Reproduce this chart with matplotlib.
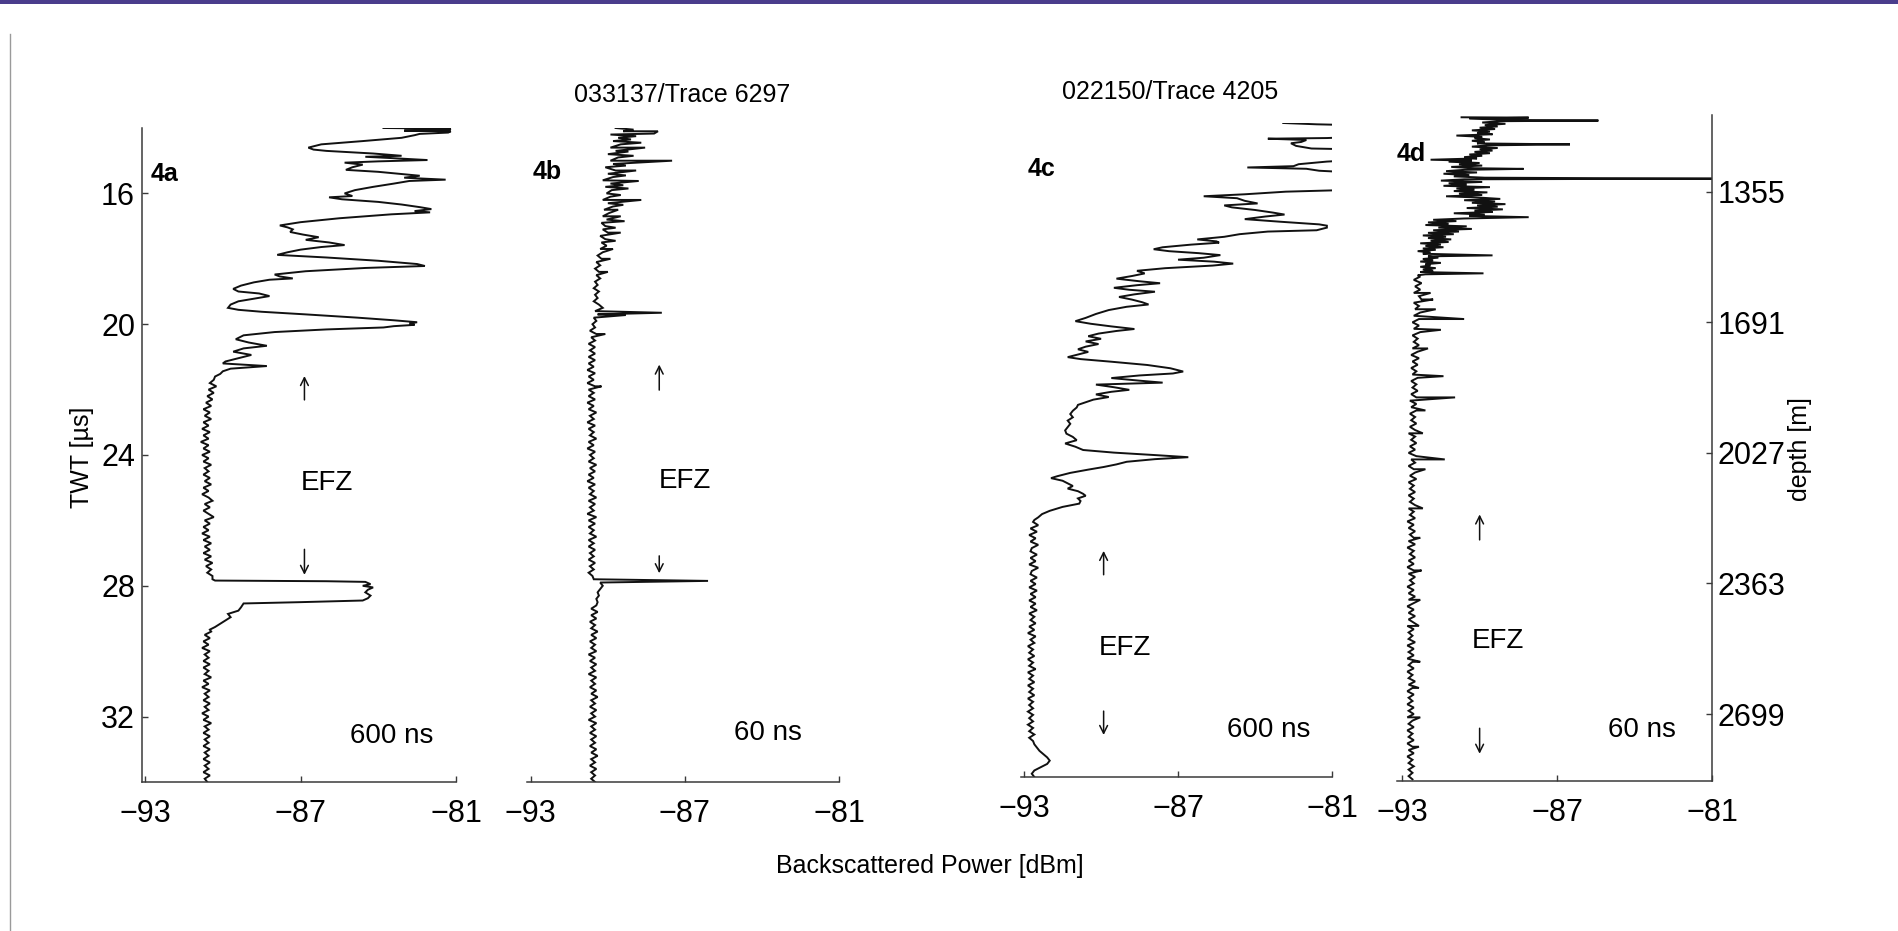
import numpy as np
import matplotlib
matplotlib.use("Agg")
import matplotlib.pyplot as plt
from matplotlib.patches import Rectangle
from matplotlib.lines import Line2D

plt.rcParams['font.family'] = ['Liberation Sans Narrow', 'Liberation Sans', 'DejaVu Sans']

# ---- data (TWT in microseconds, power in dBm) ----

# 4a, 600 ns: strongly scattering upper part, read as vertices
a_top_twt = [14.00, 14.02, 14.06, 14.08, 14.10, 14.14, 14.18, 14.22, 14.30, 14.40, 14.50, 14.60, 14.66, 14.70,
             14.78, 14.85, 14.88, 14.92, 14.98, 15.02, 15.06, 15.12, 15.20, 15.28, 15.34, 15.40, 15.46, 15.52,
             15.58, 15.62, 15.70, 15.80, 15.90, 16.00, 16.08, 16.12, 16.18, 16.26, 16.34, 16.42, 16.48, 16.54,
             16.58, 16.64, 16.76, 16.88, 16.98, 17.04, 17.10, 17.18, 17.26, 17.34, 17.42, 17.50, 17.58, 17.64,
             17.72, 17.80, 17.88, 17.96, 18.06, 18.16, 18.22, 18.28, 18.38, 18.48, 18.54, 18.60, 18.64, 18.72,
             18.82, 18.92, 19.00, 19.06, 19.14, 19.22, 19.30, 19.40, 19.50, 19.56, 19.62, 19.70, 19.80, 19.88,
             19.94, 19.98, 20.02, 20.06, 20.10, 20.16, 20.24, 20.34, 20.46, 20.56, 20.66, 20.74, 20.84, 20.94,
             21.04, 21.14, 21.20, 21.28, 21.36, 21.44, 21.52, 21.60]
a_top_pow = [-83.8, -81.2, -81.3, -83.0, -81.2, -81.3, -82.4, -82.6, -83.1, -84.6, -86.2, -86.7, -86.5, -86.0,
             -84.2, -83.1, -84.5, -83.5, -82.1, -84.0, -85.3, -84.6, -85.0, -85.25, -84.0, -83.2, -82.4, -83.0,
             -81.4, -82.8, -83.4, -84.2, -84.9, -85.3, -85.0, -85.9, -85.4, -84.0, -83.1, -82.4, -81.95, -82.6,
             -82.0, -83.5, -85.5, -87.0, -87.8, -87.5, -87.3, -87.4, -86.9, -86.3, -86.8, -85.9, -85.3, -86.2,
             -87.0, -87.5, -87.9, -86.0, -84.0, -82.5, -82.2, -84.5, -86.8, -88.0, -87.8, -87.3, -88.2, -88.8,
             -89.3, -89.6, -89.4, -88.6, -88.2, -88.8, -89.4, -89.7, -89.8, -89.4, -88.5, -86.8, -84.8, -83.4,
             -82.5, -82.8, -82.6, -83.4, -83.8, -86.0, -88.0, -89.2, -89.5, -89.0, -88.3, -89.2, -89.6, -88.9,
             -89.4, -89.9, -90.0, -88.3, -89.7, -90.0, -90.1, -90.3]
# noise floor above the bright layer, 0.1 us sampling from 21.7 us
a_mid_start = 21.7
a_mid_pow = [-90.35, -90.5, -90.25, -90.55, -90.35, -90.6, -90.4, -90.65, -90.45, -90.75,
             -90.5, -90.7, -90.45, -90.75, -90.55, -90.8, -90.5, -90.75, -90.55, -90.85,
             -90.55, -90.75, -90.5, -90.8, -90.55, -90.75, -90.45, -90.7, -90.55, -90.75,
             -90.5, -90.7, -90.45, -90.75, -90.55, -90.8, -90.55, -90.4, -90.7, -90.5,
             -90.75, -90.55, -90.35, -90.7, -90.5, -90.75, -90.55, -90.8, -90.5, -90.75,
             -90.45, -90.7, -90.5, -90.75, -90.45, -90.7, -90.4, -90.65, -90.45, -90.6, -90.4]
# bright layer at ~28 us
a_peak_twt = [27.80, 27.84, 27.86, 27.88, 27.95, 28.00, 28.05, 28.12, 28.20, 28.30, 28.38, 28.45, 28.50, 28.54,
              28.66, 28.76, 28.86, 28.96, 29.06, 29.16, 29.26, 29.34]
a_peak_pow = [-90.4, -90.3, -86.0, -84.5, -84.3, -84.6, -84.2, -84.4, -84.5, -84.3, -84.4, -84.6, -87.0, -89.2,
              -89.3, -89.4, -89.8, -89.7, -89.9, -90.1, -90.3, -90.5]
a_low_start = 29.4
a_low_pow = [-90.45, -90.7, -90.5, -90.75, -90.55, -90.8, -90.5, -90.7, -90.55, -90.75,
             -90.5, -90.75, -90.55, -90.7, -90.45, -90.75, -90.55, -90.8, -90.5, -90.7,
             -90.55, -90.75, -90.5, -90.7, -90.55, -90.8, -90.55, -90.75, -90.45, -90.7,
             -90.55, -90.75, -90.5, -90.7, -90.55, -90.75, -90.5, -90.7, -90.55, -90.75,
             -90.5, -90.7, -90.55, -90.75, -90.5, -90.7, -90.6]

# 4b, 60 ns: noise floor at 0.1 us sampling from 14.0 us, plus narrow spikes
b_start = 14.0
b_pow = [-89.7, -89.4, -89.9, -89.6, -89.8, -89.5, -89.9, -89.7, -90.0, -89.6, -89.9,
         -89.8, -90.1, -89.7, -90.0, -89.8, -90.2, -89.9, -90.1, -89.85, -90.05,
         -89.9, -90.2, -90.0, -89.8, -90.15, -89.95, -90.2, -90.05, -90.25, -90.1,
         -90.2, -90.0, -90.3, -90.1, -90.25, -90.05, -90.3, -90.2, -90.4, -90.25,
         -90.45, -90.3, -90.5, -90.35, -90.45, -90.3, -90.5, -90.4, -90.55, -90.35,
         -90.5, -90.4, -90.55, -90.35, -90.2, -90.5, -90.4, -90.55, -90.45, -90.6,
         -90.5, -90.7, -90.45, -90.65, -90.5, -90.75, -90.5, -90.7, -90.5, -90.75,
         -90.5, -90.75, -90.55, -90.8, -90.5, -90.75, -90.55, -90.8, -90.5, -90.75,
         -90.55, -90.75, -90.5, -90.8, -90.55, -90.75, -90.45, -90.7, -90.55, -90.8,
         -90.5, -90.75, -90.55, -90.7, -90.45, -90.75, -90.55, -90.8, -90.5, -90.7,
         -90.55, -90.75, -90.45, -90.7, -90.5, -90.75, -90.55, -90.8, -90.5, -90.75,
         -90.55, -90.7, -90.45, -90.75, -90.5, -90.7, -90.55, -90.8, -90.45, -90.75,
         -90.5, -90.75, -90.55, -90.7, -90.45, -90.75, -90.55, -90.75, -90.5, -90.7,
         -90.55, -90.75, -90.5, -90.7, -90.55, -90.75, -90.6, -90.55,
         -90.3, -90.2, -90.3, -90.4, -90.35, -90.45, -90.4,
         -90.45, -90.65, -90.4, -90.65, -90.45, -90.7, -90.5, -90.65, -90.4, -90.65,
         -90.45, -90.7, -90.5, -90.65, -90.45, -90.75, -90.5, -90.7, -90.45, -90.65,
         -90.5, -90.75, -90.45, -90.65, -90.5, -90.7, -90.45, -90.65, -90.4, -90.65,
         -90.5, -90.7, -90.45, -90.65, -90.5, -90.75, -90.45, -90.65, -90.5, -90.7,
         -90.45, -90.65, -90.5, -90.7, -90.45, -90.65, -90.4, -90.65, -90.5, -90.7,
         -90.45, -90.65, -90.5, -90.65, -90.5]
b_spike_twt = [14.05, 14.10, 14.17, 14.25, 14.35, 14.45, 14.60, 14.72, 14.85, 15.00, 15.15, 15.30, 15.45,
               15.62, 15.75, 15.85, 16.05, 16.20, 16.35, 16.50, 16.70, 16.85, 17.05, 17.20, 17.45, 17.70,
               18.00, 18.40, 19.65, 19.72, 20.30, 21.90, 27.85, 27.87]
b_spike_pow = [-89.0, -88.05, -88.2, -88.9, -89.1, -88.7, -88.55, -89.2, -89.0, -87.5, -89.3, -88.9, -89.3,
               -88.8, -89.4, -89.2, -89.5, -88.7, -89.4, -89.6, -89.5, -89.35, -89.7, -89.5, -89.7, -89.8,
               -89.9, -90.0, -87.9, -89.3, -90.1, -90.25, -86.1, -87.8]

# 4c, 600 ns: upper part as vertices (values beyond -81 run off the axis)
c_top_twt = [14.00, 14.04, 14.06, 14.44, 14.46, 14.48, 14.52, 14.58, 14.62, 14.70, 14.78, 14.80, 15.15, 15.18,
             15.26, 15.32, 15.36, 15.40, 15.46, 15.50, 16.05, 16.10, 16.18, 16.24, 16.30, 16.38, 16.46, 16.52,
             16.58, 16.66, 16.74, 16.80, 16.86, 16.94, 17.02, 17.10, 17.14, 17.20, 17.28, 17.32, 17.40, 17.48,
             17.56, 17.62, 17.66, 17.72, 17.80, 17.86, 17.92, 17.98, 18.04, 18.12, 18.18, 18.24, 18.30, 18.36,
             18.44, 18.52, 18.60, 18.68, 18.76, 18.84, 18.90, 18.96, 19.04, 19.10, 19.16, 19.24, 19.32, 19.40,
             19.48, 19.55, 19.62, 19.72, 19.84, 19.96, 20.06, 20.14, 20.22, 20.30, 20.36, 20.44, 20.52, 20.60,
             20.68, 20.76, 20.84, 20.92, 21.00, 21.08, 21.16, 21.22, 21.30, 21.40, 21.50, 21.60, 21.66, 21.72,
             21.80, 21.88, 21.94, 22.00, 22.08, 22.16, 22.22, 22.30, 22.38, 22.46, 22.54, 22.62, 22.70, 22.80,
             22.90, 23.00, 23.10, 23.20, 23.30, 23.40, 23.50, 23.60, 23.70, 23.80, 23.90, 24.00, 24.08, 24.16,
             24.22, 24.28, 24.36, 24.44, 24.52, 24.60, 24.70, 24.80, 24.86, 24.94, 25.02, 25.10, 25.18, 25.26,
             25.34, 25.40, 25.48, 25.56, 25.64, 25.74, 25.86, 25.96, 26.06, 26.14]
c_top_pow = [-82.9, -81.6, -80.5, -80.5, -81.2, -83.5, -82.0, -82.2, -82.6, -82.4, -81.8, -80.5, -80.5, -81.2,
             -82.3, -82.5, -84.3, -82.0, -81.5, -80.5, -80.5, -82.8, -84.4, -86.0, -84.7, -84.4, -83.9, -85.2,
             -84.9, -84.0, -83.3, -82.85, -83.6, -84.4, -83.0, -81.5, -81.2, -81.2, -81.6, -83.5, -84.6, -85.2,
             -86.25, -85.5, -85.4, -86.5, -87.6, -87.95, -87.35, -86.2, -85.35, -86.0, -87.0, -85.6, -84.85, -85.65,
             -87.5, -88.6, -88.3, -88.8, -89.4, -88.5, -87.7, -88.6, -89.5, -88.9, -87.9, -88.7, -89.3, -88.8,
             -88.4, -88.15, -89.0, -89.7, -90.2, -90.6, -91.0, -90.4, -89.6, -88.7, -89.4, -90.1, -90.5, -90.0,
             -90.6, -90.1, -90.6, -90.9, -90.5, -90.9, -91.3, -90.8, -89.6, -88.2, -87.3, -86.8, -87.2, -88.5,
             -89.6, -88.5, -87.6, -90.2, -89.5, -88.9, -89.6, -90.2, -89.7, -90.3, -90.6, -90.9, -90.95, -91.1,
             -91.2, -91.1, -91.3, -91.2, -91.3, -91.4, -91.35, -91.1, -90.95, -91.4, -91.0, -90.7, -89.5, -87.8,
             -86.6, -87.9, -89.0, -89.4, -89.9, -90.5, -91.2, -91.7, -91.95, -91.5, -91.3, -91.1, -91.3, -90.9,
             -90.7, -90.6, -90.9, -90.8, -90.85, -91.5, -92.0, -92.3, -92.45, -92.6]
c_low_start = 26.2
c_low_pow = [-92.65, -92.45, -92.75, -92.5, -92.8, -92.55, -92.75, -92.45, -92.7, -92.75,
             -92.5, -92.75, -92.55, -92.8, -92.45, -92.7, -92.75, -92.5, -92.75, -92.55,
             -92.8, -92.5, -92.75, -92.55, -92.8, -92.55, -92.75, -92.5, -92.8, -92.6,
             -92.75, -92.55, -92.8, -92.6, -92.85, -92.55, -92.75, -92.6, -92.85, -92.65,
             -92.8, -92.6, -92.85, -92.65, -92.8, -92.55, -92.85, -92.65, -92.8, -92.6,
             -92.85, -92.65, -92.8, -92.6, -92.85, -92.65, -92.8, -92.65, -92.85, -92.65,
             -92.8, -92.65, -92.85, -92.65, -92.8, -92.6, -92.8, -92.65, -92.6, -92.5,
             -92.4, -92.25, -92.1, -92.0, -92.1, -92.35, -92.6, -92.7, -92.6]

# 4d, 60 ns: dense upper part as vertices
d_top_twt = [13.72, 13.73, 13.76, 13.80, 13.82, 13.84, 13.88, 13.92, 13.96, 14.00, 14.04, 14.08, 14.12, 14.16,
             14.20, 14.24, 14.28, 14.32, 14.36, 14.40, 14.44, 14.48, 14.52, 14.55, 14.58, 14.62, 14.66, 14.70,
             14.74, 14.78, 14.82, 14.86, 14.90, 14.94, 14.98, 15.02, 15.05, 15.08, 15.12, 15.16, 15.20, 15.24,
             15.28, 15.30, 15.33, 15.37, 15.41, 15.45, 15.49, 15.53, 15.57, 15.60, 15.62, 15.66, 15.70, 15.74,
             15.78, 15.82, 15.86, 15.90, 15.94, 15.98, 16.02, 16.06, 16.10, 16.14, 16.18, 16.22, 16.26, 16.30,
             16.34, 16.38, 16.42, 16.46, 16.50, 16.54, 16.58, 16.62, 16.66, 16.70, 16.74, 16.78, 16.82, 16.86,
             16.90, 16.94, 16.98, 17.02, 17.06, 17.10, 17.14, 17.18, 17.22, 17.26, 17.30, 17.34, 17.38, 17.42,
             17.46, 17.50, 17.54, 17.58, 17.62, 17.66, 17.70, 17.74, 17.78, 17.82, 17.86, 17.90, 17.95, 17.98,
             18.02, 18.06, 18.10, 18.14, 18.18, 18.22, 18.26, 18.30, 18.34, 18.38, 18.42, 18.46, 18.50, 18.53,
             18.56]
d_top_pow = [-90.7, -88.1, -90.4, -88.9, -85.4, -89.2, -89.9, -89.0, -89.8, -89.3, -90.0, -89.4, -90.3, -89.6,
             -90.1, -89.5, -90.9, -89.9, -90.2, -89.6, -90.3, -89.8, -90.1, -86.5, -89.7, -90.3, -89.3, -90.0,
             -89.5, -90.2, -89.6, -90.4, -89.9, -90.6, -90.1, -91.9, -90.3, -91.2, -90.0, -90.8, -89.9, -91.1,
             -90.2, -88.3, -90.6, -91.3, -90.1, -91.4, -90.4, -91.0, -89.8, -81.0, -90.6, -91.5, -89.9, -91.2,
             -90.5, -91.4, -89.6, -90.9, -90.2, -91.0, -89.7, -90.8, -89.9, -91.3, -90.0, -89.2, -90.6, -89.4,
             -90.3, -89.0, -90.1, -89.3, -90.5, -89.1, -90.2, -89.5, -91.0, -89.8, -90.4, -88.1, -90.6, -91.8,
             -90.9, -92.0, -91.2, -92.1, -90.5, -91.6, -90.3, -91.8, -90.8, -92.0, -91.0, -92.2, -91.3, -92.0,
             -91.1, -91.9, -91.2, -92.3, -91.5, -92.1, -91.4, -92.2, -91.7, -92.4, -91.9, -92.2, -89.5, -92.0,
             -91.6, -92.2, -91.8, -92.3, -91.5, -92.1, -91.9, -92.3, -91.7, -92.2, -91.8, -92.3, -89.85, -92.1,
             -92.4]
d_low_start = 18.6
d_low_pow = [-92.3, -92.55, -92.25, -92.5, -92.3, -92.55, -92.35, -92.25, -92.55, -92.35,
             -92.5, -92.3, -92.55, -92.35, -92.6, -92.35, -92.55, -92.3, -92.6, -92.4,
             -92.55, -92.35, -92.6, -92.4, -92.65, -92.35, -92.6, -92.4, -92.65, -92.45,
             -92.6, -92.4, -92.65, -92.45, -92.6, -92.4, -92.65, -92.45, -92.7, -92.45,
             -92.65, -92.45, -92.7, -92.5, -92.65, -92.45, -92.7, -92.5, -92.75, -92.5,
             -92.65, -92.45, -92.7, -92.5, -92.75, -92.45, -92.65, -92.5, -92.75, -92.55,
             -92.5, -92.7, -92.45, -92.75, -92.55, -92.7, -92.5, -92.75, -92.55, -92.7,
             -92.5, -92.75, -92.55, -92.7, -92.5, -92.8, -92.55, -92.75, -92.5, -92.7,
             -92.55, -92.75, -92.5, -92.8, -92.55, -92.7, -92.5, -92.75, -92.55, -92.8,
             -92.55, -92.75, -92.5, -92.7, -92.55, -92.8, -92.55, -92.75, -92.5, -92.75,
             -92.55, -92.8, -92.55, -92.75, -92.5, -92.75, -92.55, -92.8, -92.55, -92.75,
             -92.6, -92.75, -92.5, -92.8, -92.55, -92.75, -92.55, -92.8, -92.6, -92.75,
             -92.55, -92.8, -92.6, -92.75, -92.5, -92.75, -92.6, -92.8, -92.55, -92.75,
             -92.6, -92.8, -92.55, -92.75, -92.55, -92.8, -92.6, -92.75, -92.55, -92.8,
             -92.6, -92.75, -92.55, -92.8, -92.6, -92.75, -92.55, -92.8, -92.6, -92.75,
             -92.55, -92.75, -92.6, -92.75, -92.6]
d_spike_twt = [19.1, 19.3, 19.6, 19.9, 20.23, 20.8, 21.65, 22.3, 22.7, 23.4, 24.2, 24.5, 25.7, 26.6, 27.6,
               28.5, 29.3, 30.4, 31.2, 32.1, 33.0]
d_spike_pow = [-91.9, -91.8, -91.7, -90.6, -91.5, -92.0, -91.4, -90.95, -92.1, -92.2, -91.35, -92.1, -92.2,
               -92.3, -92.25, -92.3, -92.35, -92.3, -92.35, -92.3, -92.35]

# tick labels
power_ticks = [-93, -87, -81]
twt_ticks = [16, 20, 24, 28, 32]
depth_labels = ['1355', '1691', '2027', '2363', '2699']


def sampled(start, values):
    # regular 0.1 us sampling of the noise floor
    values = np.array(values)
    return start + 0.1 * np.arange(len(values)), values


def merge(*parts):
    # join (twt, power) pieces into one trace ordered in time
    t = np.concatenate([np.asarray(p[0], float) for p in parts])
    v = np.concatenate([np.asarray(p[1], float) for p in parts])
    order = np.argsort(t, kind='stable')
    return t[order], v[order]


trace_a = merge((a_top_twt, a_top_pow), sampled(a_mid_start, a_mid_pow), (a_peak_twt, a_peak_pow),
                sampled(a_low_start, a_low_pow))
trace_b = merge(sampled(b_start, b_pow), (b_spike_twt, b_spike_pow))
trace_c = merge((c_top_twt, c_top_pow), sampled(c_low_start, c_low_pow))
trace_d = merge((d_top_twt, d_top_pow), sampled(d_low_start, d_low_pow), (d_spike_twt, d_spike_pow))

W, H = 1899, 931
fig = plt.figure(figsize=(W / 100, H / 100), dpi=100)

axis_col = '#3a3a3a'
line_col = '#111111'


def panel(left, top, right, bottom, xlo, ylim):
    ax = fig.add_axes([left / W, 1 - bottom / H, (right - left) / W, (bottom - top) / H])
    ax.set_xlim(xlo, -81)
    ax.set_ylim(*ylim)
    for s in ax.spines.values():
        s.set_visible(False)
        s.set_color(axis_col)
        s.set_linewidth(1.1)
    ax.spines['bottom'].set_visible(True)
    ax.set_xticks(power_ticks)
    ax.set_xticklabels([str(p).replace('-', '\u2212') for p in power_ticks])
    ax.tick_params(axis='x', direction='in', length=4, width=1, color=axis_col, labelsize=22, pad=12)
    ax.set_yticks([])
    ax.patch.set_visible(False)
    return ax


ax_a = panel(142, 128, 456, 782, -93.12, (34, 14))
ax_b = panel(527, 128, 839, 782, -93.15, (34, 14))
ax_c = panel(1021, 123, 1332, 777, -93.12, (34, 14))
ax_d = panel(1397, 115, 1712, 781, -93.2, (34.05, 13.65))

# left TWT axis on 4a
ax_a.spines['left'].set_visible(True)
ax_a.set_yticks(twt_ticks)
ax_a.set_yticklabels([str(t) for t in twt_ticks])
ax_a.tick_params(axis='y', direction='in', length=4, width=1, color=axis_col, labelsize=22, pad=5)

# right depth axis on 4d
ax_d.spines['right'].set_visible(True)
ax_d.yaxis.tick_right()
ax_d.set_yticks(twt_ticks)
ax_d.set_yticklabels(depth_labels)
ax_d.tick_params(axis='y', direction='in', length=4, width=1, color=axis_col, labelsize=22, pad=4)

for ax, tr in [(ax_a, trace_a), (ax_b, trace_b), (ax_c, trace_c), (ax_d, trace_d)]:
    ax.plot(tr[1], tr[0], color=line_col, lw=1.4, solid_joinstyle='miter')

# panel letters
for ax, lab, x, y in [(ax_a, '4a', -92.8, 15.4), (ax_b, '4b', -92.95, 15.35),
                      (ax_c, '4c', -92.85, 15.4), (ax_d, '4d', -93.2, 14.85)]:
    ax.text(x, y, lab, fontsize=18, fontweight='bold', ha='left', va='center')

# EFZ markers: up arrow, label, down arrow, pulse length
efz = [(ax_a, -86.85, (21.5, 22.4), (-86.0, 24.85), (26.8, 27.75), (-83.5, 32.6), '600 ns'),
       (ax_b, -88.0, (21.15, 22.1), (-87.0, 24.8), (27.0, 27.7), (-83.75, 32.5), '60 ns'),
       (ax_c, -89.9, (27.0, 27.9), (-89.05, 30.05), (31.9, 32.8), (-83.45, 32.55), '600 ns'),
       (ax_d, -90.0, (25.8, 26.75), (-89.3, 29.75), (32.35, 33.3), (-83.7, 32.5), '60 ns')]
for ax, xa, up, lab_pos, down, ns_pos, ns in efz:
    ax.annotate('', xy=(xa, up[0]), xytext=(xa, up[1]),
                arrowprops=dict(arrowstyle='->', lw=1.1, color=line_col, mutation_scale=14))
    ax.annotate('', xy=(xa, down[1]), xytext=(xa, down[0]),
                arrowprops=dict(arrowstyle='->', lw=1.1, color=line_col, mutation_scale=14))
    ax.text(lab_pos[0], lab_pos[1], 'EFZ', fontsize=20, ha='center', va='center')
    ax.text(ns_pos[0], ns_pos[1], ns, fontsize=20, ha='center', va='center')

# figure-level texts
fig.text(682 / W, 1 - 95 / H, '033137/Trace 6297', fontsize=18, ha='center', va='center')
fig.text(1170 / W, 1 - 92 / H, '022150/Trace 4205', fontsize=18, ha='center', va='center')
fig.text(930 / W, 1 - 866 / H, 'Backscattered Power [dBm]', fontsize=18, ha='center', va='center')
fig.text(82 / W, 1 - 457 / H, 'TWT [\u00b5s]', fontsize=18, rotation=90, ha='center', va='center')
fig.text(1800 / W, 1 - 449 / H, 'depth [m]', fontsize=18, rotation=90, ha='center', va='center')

# scan frame: purple strip on top, grey edge on the left
fig.add_artist(Rectangle((0, 1 - 4 / H), 1, 4 / H, transform=fig.transFigure, color='#4a3d8c', lw=0))
fig.add_artist(Line2D([10 / W, 10 / W], [0, 1 - 34 / H], transform=fig.transFigure, color='#9a9a9a', lw=1))

fig.savefig('out.png', dpi=100)
